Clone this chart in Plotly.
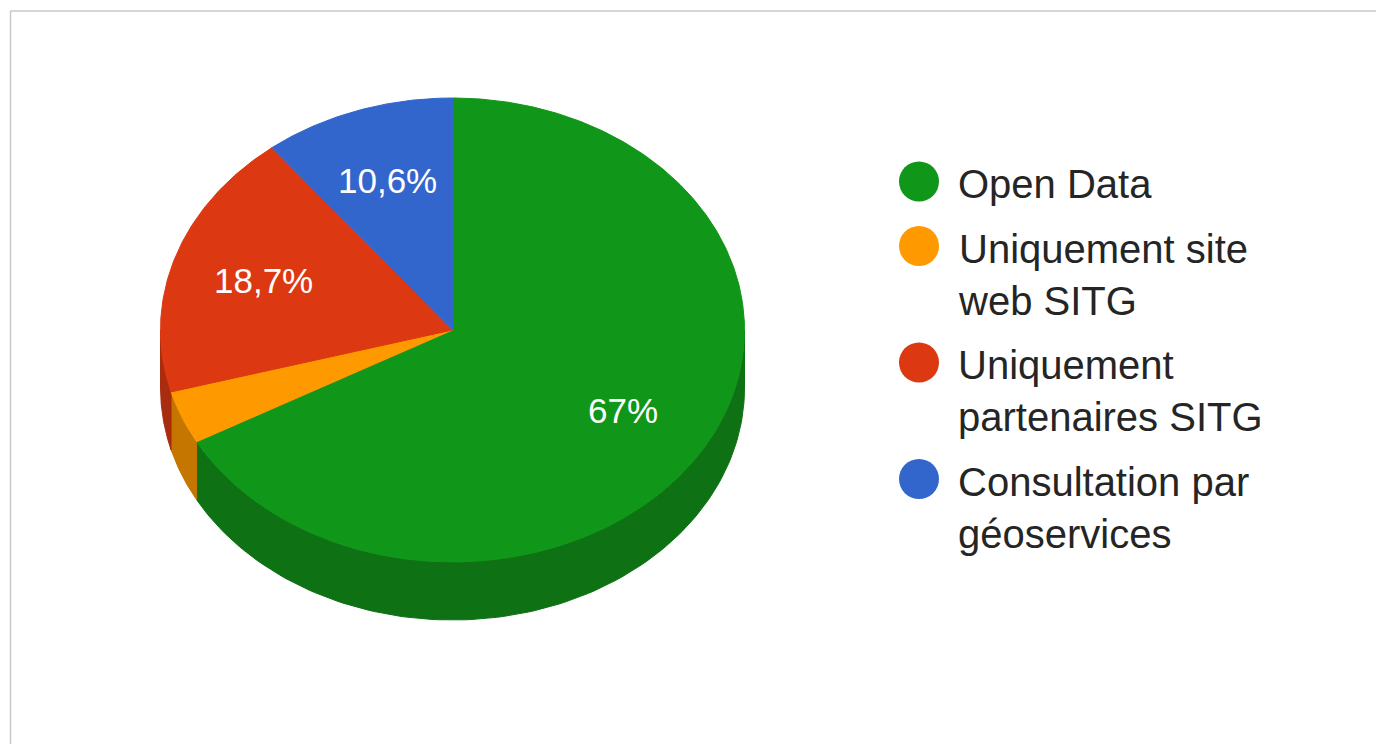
import numpy as np
import plotly.graph_objects as go

# ---------------- data ----------------
categories = ["Open Data", "Uniquement site web SITG",
              "Uniquement partenaires SITG", "Consultation par géoservices"]
legend_labels = ["Open Data", "Uniquement site<br>web SITG",
                 "Uniquement<br>partenaires SITG", "Consultation par<br>géoservices"]
values = [67.0, 3.7, 18.7, 10.6]
colors = ["#109618", "#ff9900", "#dc3912", "#3366cc"]
side_colors = ["#0e7114", "#c47600", "#a92c0e", "#274f9d"]

# ---------------- layout constants (page pixels) ----------------
W, H = 1377, 744
CX, CY, RX, RY, DEPTH = 452.5, 330.0, 292.0, 232.0, 58.0
LABEL_R = 0.68
FONT = "Arial, 'Liberation Sans', sans-serif"


def pt(theta_deg, r=1.0, dy=0.0):
    t = np.radians(theta_deg)
    return CX + r * RX * np.sin(t), CY - r * RY * np.cos(t) + dy


total = sum(values)
fracs = [v / total for v in values]
starts = np.concatenate([[0.0], np.cumsum(fracs)[:-1]]) * 360.0
ends = np.cumsum(fracs) * 360.0

fig = go.Figure()

# side walls (front half only, 90..270 deg clockwise from top)
for i in range(len(values)):
    lo, hi = max(starts[i], 90.0), min(ends[i], 270.0)
    if lo >= hi:
        continue
    th = np.linspace(lo, hi, 120)
    xt, yt = pt(th)
    xb, yb = pt(th[::-1], dy=DEPTH)
    xs = np.concatenate([xt, xb, xt[:1]])
    ys = np.concatenate([yt, yb, yt[:1]])
    fig.add_trace(go.Scatter(x=xs, y=ys, mode="lines", fill="toself",
                             fillcolor=side_colors[i],
                             line=dict(color=side_colors[i], width=1),
                             hoverinfo="skip", showlegend=False))

# top faces
for i in range(len(values)):
    th = np.linspace(starts[i], ends[i], max(8, int((ends[i] - starts[i]) * 2)))
    xa, ya = pt(th)
    xs = np.concatenate([[CX], xa, [CX]])
    ys = np.concatenate([[CY], ya, [CY]])
    fig.add_trace(go.Scatter(x=xs, y=ys, mode="lines", fill="toself",
                             fillcolor=colors[i],
                             line=dict(color=colors[i], width=1),
                             hoverinfo="text", text=categories[i],
                             showlegend=False))

annotations = []
# slice labels
for i, v in enumerate(values):
    if v < 5:
        continue
    mid = (starts[i] + ends[i]) / 2.0
    lx, ly = pt(mid, r=LABEL_R)
    txt = f"{v:g}".replace(".", ",") + "%"
    annotations.append(dict(x=lx, y=ly, xref="x", yref="y", text=txt,
                            showarrow=False, xanchor="center", yanchor="middle",
                            font=dict(family=FONT, size=35, color="#ffffff")))

# custom legend
LEG_X_DOT, LEG_X_TEXT = 919.0, 956.0
LINE_H, ITEM_GAP, FIRST_BASE = 52.0, 64.5, 197.0
base = FIRST_BASE
dot_y = []
for i, lab in enumerate(legend_labels):
    dot_y.append(base - 15.5)
    annotations.append(dict(x=LEG_X_TEXT, y=base - 37.0, xref="x", yref="y",
                            text=lab, showarrow=False, align="left",
                            xanchor="left", yanchor="top",
                            font=dict(family=FONT, size=40, color="#252525")))
    base += ITEM_GAP + LINE_H * (lab.count("<br>"))

fig.add_trace(go.Scatter(x=[LEG_X_DOT] * len(values), y=dot_y, mode="markers",
                         marker=dict(size=40, color=colors, line=dict(width=0)),
                         hoverinfo="text", text=categories, showlegend=False))

fig.update_layout(
    width=W, height=H,
    margin=dict(l=0, r=0, t=0, b=0),
    paper_bgcolor="#ffffff", plot_bgcolor="#ffffff",
    xaxis=dict(range=[0, W], visible=False, fixedrange=True),
    yaxis=dict(range=[H, 0], visible=False, fixedrange=True),
    showlegend=False,
    annotations=annotations,
    shapes=[
        dict(type="line", xref="x", yref="y", x0=10.5, x1=1376, y0=11, y1=11,
             line=dict(color="#c8c8c8", width=1.5)),
        dict(type="line", xref="x", yref="y", x0=10.5, x1=10.5, y0=11, y1=H,
             line=dict(color="#c8c8c8", width=1.5)),
    ],
)

fig.write_html("out.html",
               config={"displayModeBar": False},
               post_script="document.body.style.margin='0';document.body.style.overflow='hidden';")
